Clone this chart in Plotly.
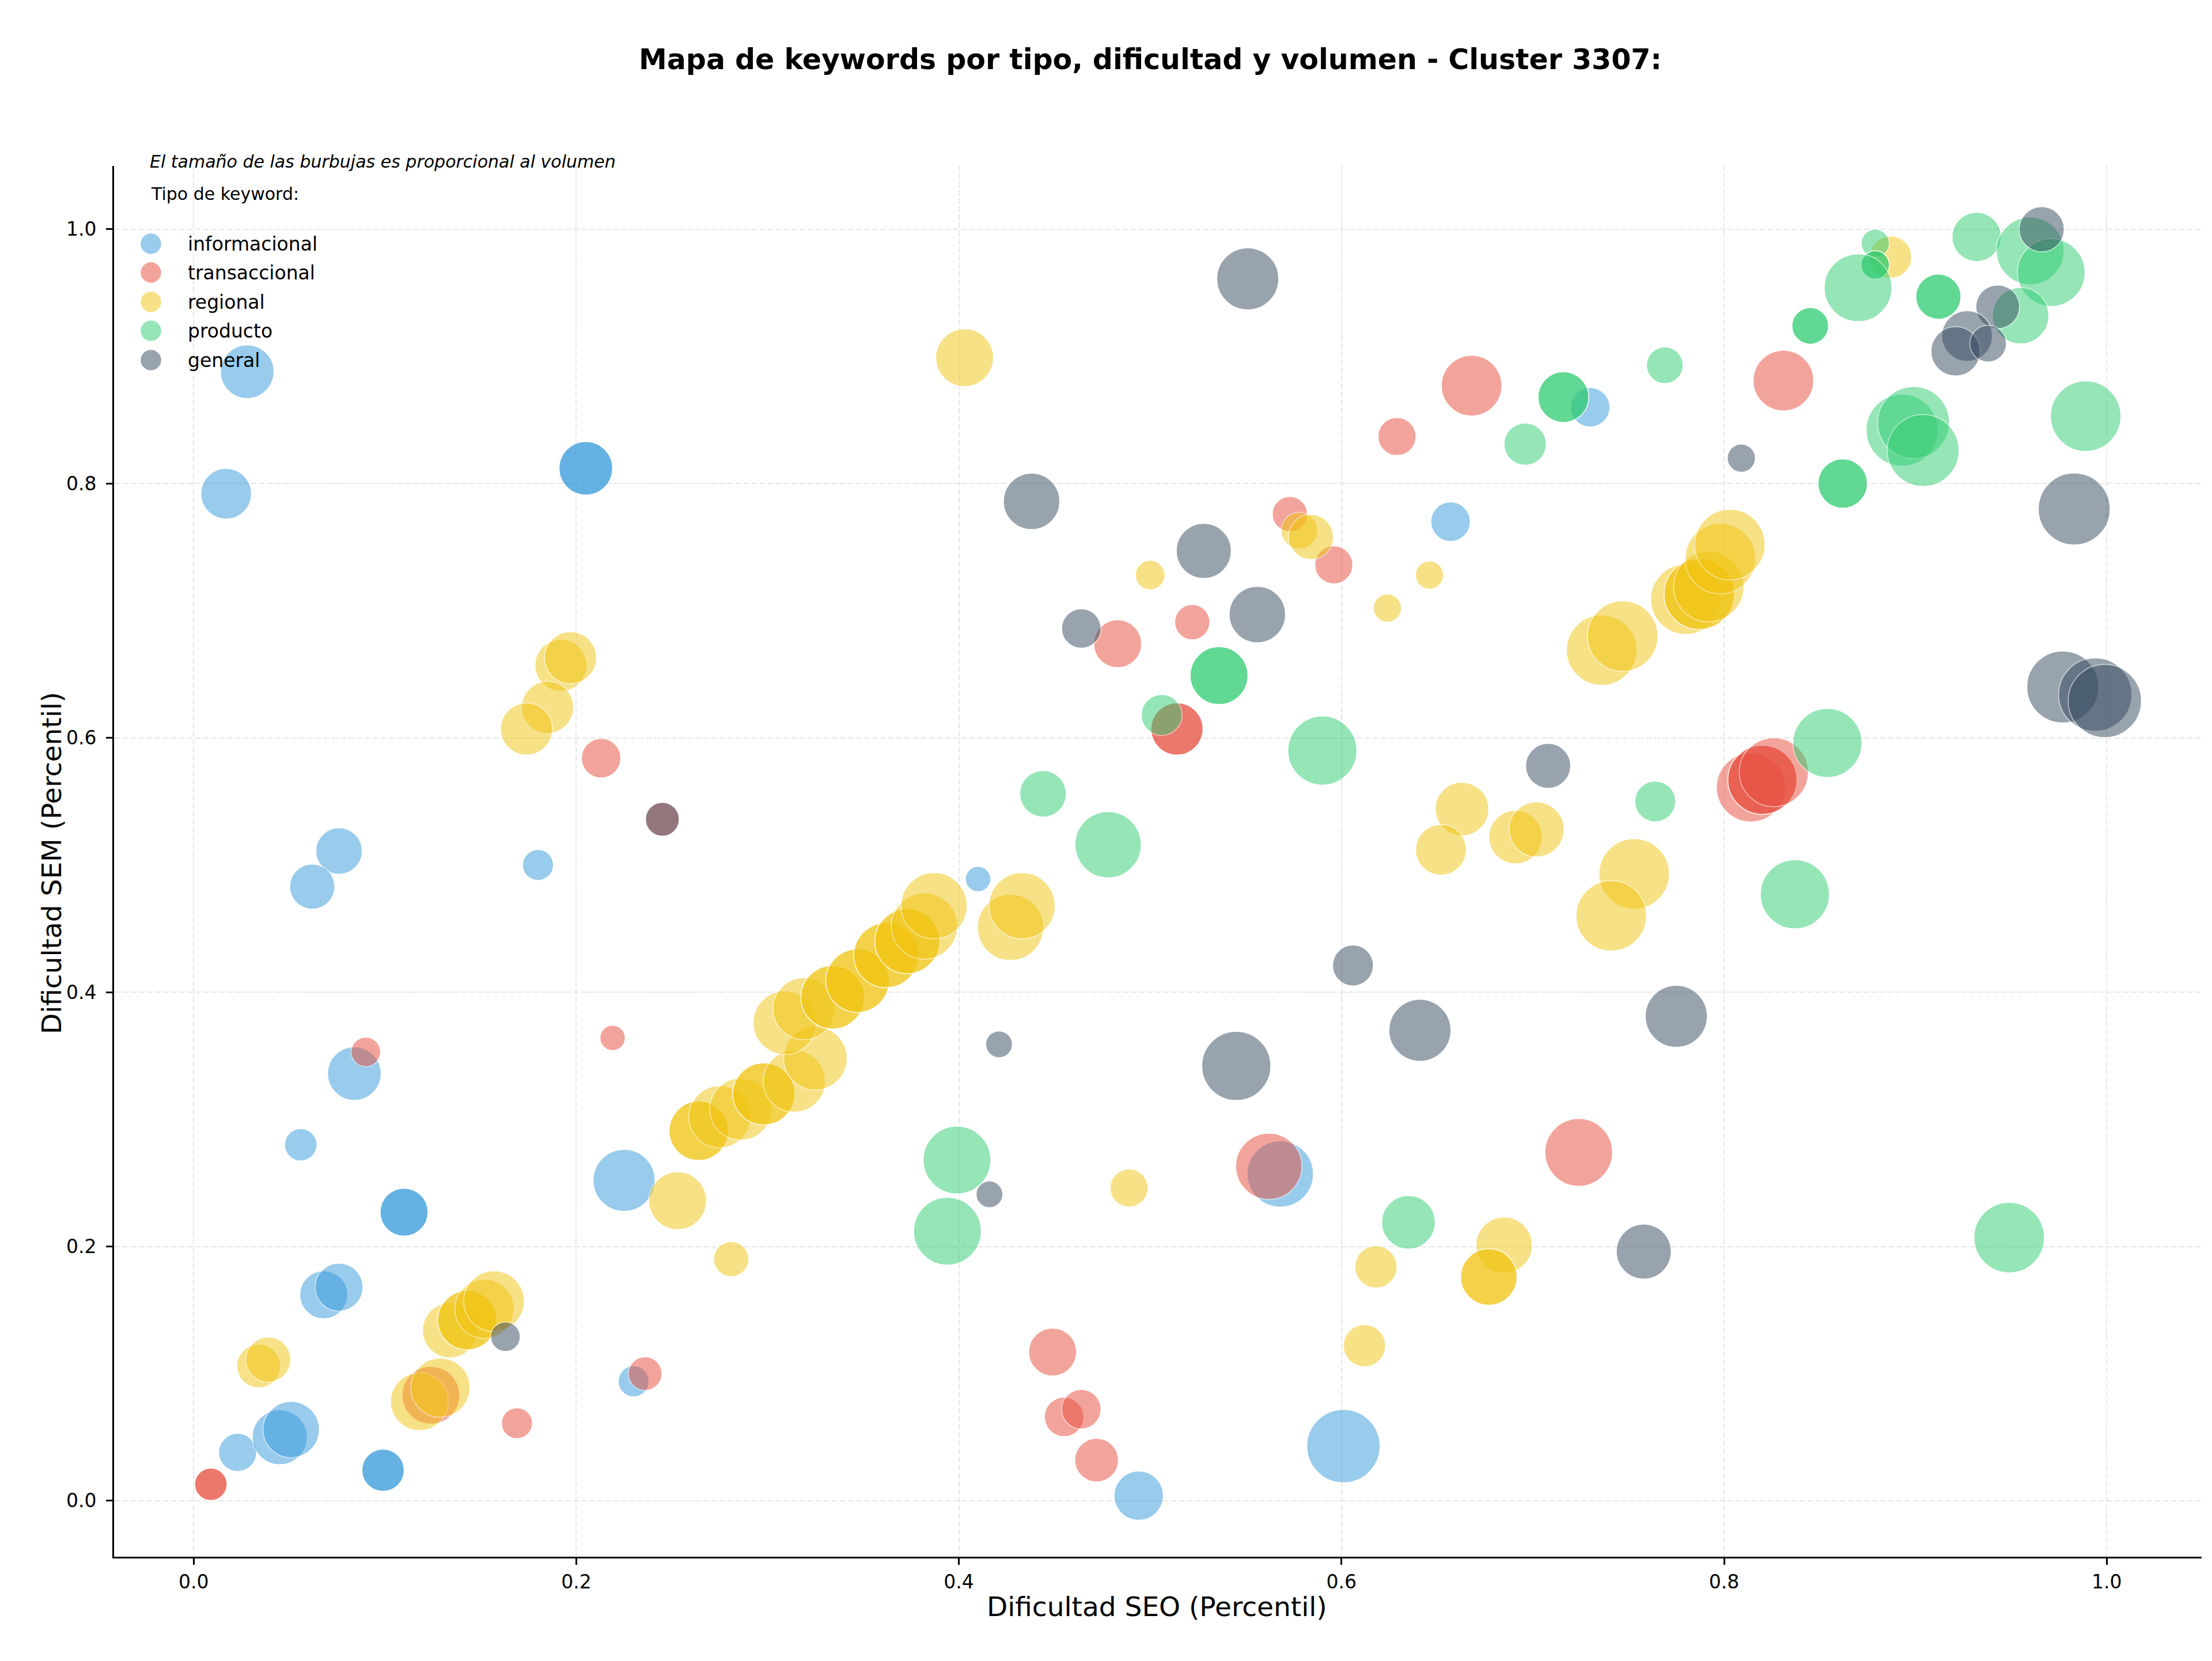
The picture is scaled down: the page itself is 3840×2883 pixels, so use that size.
import math
import plotly.graph_objects as go

# ---------------- DATA ----------------
categorias = ["informacional", "transaccional", "regional", "producto", "general"]

info_seo = [0.028, 0.017, 0.205, 0.205, 0.076, 0.062, 0.180, 0.084, 0.056, 0.110, 0.110, 0.225, 0.068,
            0.076, 0.023, 0.045, 0.051, 0.099, 0.099, 0.230, 0.410, 0.730, 0.657, 0.568, 0.601, 0.494]
info_sem = [0.888, 0.792, 0.812, 0.812, 0.511, 0.483, 0.500, 0.336, 0.280, 0.227, 0.227, 0.252, 0.162,
            0.168, 0.038, 0.050, 0.056, 0.024, 0.024, 0.094, 0.489, 0.860, 0.770, 0.257, 0.043, 0.004]
info_vol = [7220, 6480, 7220, 7220, 5445, 5120, 2420, 7220, 2645, 5780, 5780, 9680, 5780,
            5780, 3645, 7605, 8000, 4500, 4500, 2420, 1620, 3920, 3920, 11045, 13520, 6125]

trans_seo = [0.009, 0.009, 0.090, 0.213, 0.219, 0.236, 0.169, 0.245, 0.124, 0.449, 0.455, 0.464, 0.472, 0.483,
             0.522, 0.514, 0.514, 0.573, 0.596, 0.629, 0.668, 0.831, 0.724, 0.562, 0.814, 0.820, 0.820, 0.826]
trans_sem = [0.013, 0.013, 0.353, 0.584, 0.364, 0.100, 0.061, 0.536, 0.083, 0.117, 0.066, 0.072, 0.032, 0.674,
             0.691, 0.607, 0.607, 0.776, 0.736, 0.837, 0.877, 0.881, 0.274, 0.263, 0.561, 0.567, 0.567, 0.573]
trans_vol = [2645, 2645, 2205, 3920, 1620, 2880, 2420, 2880, 8405, 5780, 3920, 3920, 4805, 5780,
             3125, 6845, 6845, 3125, 3645, 3645, 9245, 9245, 11520, 11045, 12005, 12005, 12005, 12005]

reg_seo = [0.403, 0.192, 0.197, 0.185, 0.174, 0.500, 0.578, 0.584, 0.624, 0.646, 0.736, 0.747, 0.780, 0.787,
           0.787, 0.792, 0.798, 0.803, 0.663, 0.691, 0.702, 0.652, 0.753, 0.741, 0.618, 0.612, 0.685, 0.677,
           0.677, 0.489, 0.281, 0.253, 0.264, 0.264, 0.275, 0.286, 0.298, 0.298, 0.314, 0.325, 0.309, 0.319,
           0.334, 0.334, 0.347, 0.347, 0.362, 0.362, 0.373, 0.373, 0.382, 0.387, 0.427, 0.433, 0.887, 0.034,
           0.039, 0.118, 0.129, 0.134, 0.143, 0.143, 0.152, 0.157]
reg_sem = [0.899, 0.657, 0.663, 0.624, 0.607, 0.728, 0.763, 0.758, 0.702, 0.728, 0.669, 0.680, 0.709, 0.713,
           0.713, 0.719, 0.741, 0.752, 0.544, 0.522, 0.528, 0.512, 0.493, 0.460, 0.184, 0.122, 0.201, 0.176,
           0.176, 0.246, 0.190, 0.236, 0.291, 0.291, 0.302, 0.308, 0.320, 0.320, 0.330, 0.348, 0.376, 0.387,
           0.396, 0.396, 0.409, 0.409, 0.429, 0.429, 0.440, 0.440, 0.452, 0.468, 0.451, 0.468, 0.978, 0.106,
           0.111, 0.078, 0.089, 0.134, 0.142, 0.142, 0.151, 0.157]
reg_vol = [8405, 6845, 6845, 6845, 6845, 2205, 3380, 5120, 2000, 2000, 12500, 12500, 12500, 12500,
           12500, 12500, 12500, 12500, 7220, 7220, 7605, 6480, 12500, 12500, 4500, 4500, 8000, 8000,
           8000, 3645, 3125, 8405, 8820, 8820, 9680, 9680, 9680, 9680, 9680, 10125, 10125, 9680,
           10125, 10125, 10125, 10125, 10580, 10580, 10580, 10580, 11045, 11045, 11045, 11045, 4500, 4805,
           5120, 8405, 8820, 7605, 8820, 8820, 8820, 9245]

prod_seo = [0.506, 0.536, 0.536, 0.444, 0.478, 0.590, 0.696, 0.716, 0.716, 0.769, 0.399, 0.394, 0.635, 0.764,
            0.854, 0.837, 0.949, 0.879, 0.879, 0.879, 0.870, 0.845, 0.845, 0.912, 0.912, 0.862, 0.862, 0.893,
            0.899, 0.904, 0.932, 0.960, 0.971, 0.955, 0.989]
prod_sem = [0.618, 0.649, 0.649, 0.556, 0.516, 0.590, 0.831, 0.868, 0.868, 0.893, 0.268, 0.212, 0.219, 0.550,
            0.596, 0.477, 0.207, 0.989, 0.972, 0.972, 0.954, 0.924, 0.924, 0.947, 0.947, 0.800, 0.800, 0.842,
            0.848, 0.826, 0.994, 0.983, 0.966, 0.932, 0.853]
prod_vol = [4205, 8405, 8405, 5445, 11045, 12005, 4500, 6480, 6480, 3380, 11520, 11520, 7220, 4205,
            12005, 12005, 12500, 2000, 2000, 2000, 11520, 3380, 3380, 5120, 5120, 6125, 6125, 13005,
            13005, 13005, 6125, 11520, 11520, 8000, 12500]

gen_seo = [0.551, 0.438, 0.528, 0.556, 0.464, 0.245, 0.421, 0.416, 0.545, 0.606, 0.641, 0.775, 0.708,
           0.758, 0.163, 0.809, 0.966, 0.943, 0.927, 0.921, 0.938, 0.983, 0.977, 0.994, 0.999]
gen_sem = [0.961, 0.786, 0.747, 0.697, 0.686, 0.536, 0.359, 0.241, 0.342, 0.421, 0.370, 0.381, 0.578,
           0.196, 0.129, 0.820, 1.000, 0.939, 0.916, 0.904, 0.910, 0.780, 0.640, 0.634, 0.629]
gen_vol = [9680, 8000, 7605, 8000, 3920, 2880, 1805, 1805, 12005, 4205, 9680, 9680, 5120,
           7605, 2205, 2000, 5120, 4805, 6480, 6125, 3380, 13005, 13005, 13520, 13520]

x_ticks = [0.0, 0.2, 0.4, 0.6, 0.8, 1.0]
y_ticks = [0.0, 0.2, 0.4, 0.6, 0.8, 1.0]

# ---------------- STYLE ----------------
colores = {
    "informacional": "#3498db",
    "transaccional": "#e74c3c",
    "regional": "#f1c40f",
    "producto": "#2ecc71",
    "general": "#34495e",
}
series = {
    "informacional": (info_seo, info_sem, info_vol),
    "transaccional": (trans_seo, trans_sem, trans_vol),
    "regional": (reg_seo, reg_sem, reg_vol),
    "producto": (prod_seo, prod_sem, prod_vol),
    "general": (gen_seo, gen_sem, gen_vol),
}

W, H = 3840, 2883
L, R, T, B = 198, 18, 288, 181
PW, PH = W - L - R, H - T - B
SIZE_K = 2.449 / math.sqrt(5)
FONT = "DejaVu Sans"


def px_x(X):
    return (X - L) / PW


def px_y(Y):
    return (H - B - Y) / PH


fig = go.Figure()
for cat in categorias:
    xs, ys, vs = series[cat]
    fig.add_trace(go.Scatter(
        x=xs, y=ys, mode="markers", name=cat, showlegend=False,
        marker=dict(size=[SIZE_K * math.sqrt(v) for v in vs], sizemode="diameter",
                    color=colores[cat], opacity=0.5,
                    line=dict(color="white", width=1.7)),
        hovertemplate=cat + "<br>SEO %{x}<br>SEM %{y}<extra></extra>",
    ))

shapes = []
annotations = []

# legend (drawn manually to get large markers)
leg_y = [423, 473, 524, 574, 625]
for cat, yy in zip(categorias, leg_y):
    shapes.append(dict(type="circle", xref="paper", yref="paper",
                       xsizemode="pixel", ysizemode="pixel",
                       xanchor=px_x(262), yanchor=px_y(yy),
                       x0=-18.5, x1=18.5, y0=-18.5, y1=18.5,
                       fillcolor=colores[cat], opacity=0.5,
                       line=dict(color="white", width=1.5)))
    annotations.append(dict(text=cat, xref="paper", yref="paper", x=px_x(324), y=px_y(yy),
                            xanchor="left", yanchor="middle", showarrow=False,
                            font=dict(family=FONT, size=33, color="black")))

annotations.append(dict(text="Tipo de keyword:", xref="paper", yref="paper", x=px_x(260), y=px_y(336),
                        xanchor="left", yanchor="middle", showarrow=False,
                        font=dict(family=FONT, size=30, color="black")))
annotations.append(dict(text="<i>El tamaño de las burbujas es proporcional al volumen</i>",
                        xref="paper", yref="paper", x=px_x(258), y=px_y(280),
                        xanchor="left", yanchor="middle", showarrow=False,
                        font=dict(family=FONT, size=30, color="black")))
# axis titles
annotations.append(dict(text="Dificultad SEO (Percentil)", xref="paper", yref="paper",
                        x=px_x(2008), y=px_y(2788), xanchor="center", yanchor="middle",
                        showarrow=False, font=dict(family=FONT, size=47, color="black")))
annotations.append(dict(text="Dificultad SEM (Percentil)", xref="paper", yref="paper",
                        x=px_x(90), y=px_y(1498), xanchor="center", yanchor="middle",
                        textangle=-90, showarrow=False,
                        font=dict(family=FONT, size=47, color="black")))

axis_common = dict(
    ticks="outside", ticklen=11, tickwidth=2.6, tickcolor="black",
    tickfont=dict(family=FONT, size=33, color="black"),
    showline=True, linecolor="black", linewidth=2.7, mirror=False,
    showgrid=True, gridcolor="#e6e6e6", gridwidth=2.4, griddash="10px,4px",
    zeroline=False, tickformat=".1f",
)
fig.update_xaxes(range=[-0.0416, 1.0496], tickvals=x_ticks, ticklabelstandoff=2, **axis_common)
fig.update_yaxes(range=[-0.044, 1.0498], tickvals=y_ticks, ticklabelstandoff=10, **axis_common)

fig.update_layout(
    width=W, height=H,
    margin=dict(l=L, r=R, t=T, b=B, autoexpand=False),
    paper_bgcolor="white", plot_bgcolor="white",
    showlegend=False,
    font=dict(family=FONT, color="black"),
    title=dict(text="<b>Mapa de keywords por tipo, dificultad y volumen - Cluster 3307:</b>",
               x=1997 / W, xref="container", xanchor="center",
               y=1 - 103 / H, yref="container", yanchor="middle",
               font=dict(family=FONT, size=49, color="black")),
    shapes=shapes, annotations=annotations,
)

fig.write_html("out.html")
